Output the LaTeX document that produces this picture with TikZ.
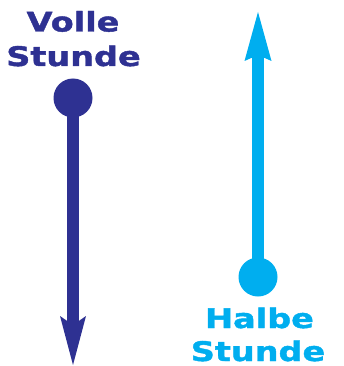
\documentclass[tikz,border=0pt]{standalone}
\usepackage{fontspec}
\newfontfamily\widefont{DejaVu Sans}[FakeStretch=1.24, FakeBold=1.5]
\definecolor{volleblue}{HTML}{2E3192}
\definecolor{halbeblue}{HTML}{00AEEF}
\tikzset{
  lbl/.style={anchor=base, inner sep=0pt, font=\widefont\bfseries\fontsize{27}{34}\selectfont},
  knob/.style={circle, inner sep=0pt, minimum size=39pt},
  shaft/.style={line width=12pt}
}
\begin{document}
\begin{tikzpicture}[x=1pt, y=-1pt]
\useasboundingbox (0,0) rectangle (344,366);
% Volle Stunde
\node[lbl, text=volleblue] (v1) at (73,31.5) {Volle};
\node[lbl, text=volleblue] (v2) at (73.5,66) {Stunde};
\node[knob, fill=volleblue] (cL) at (73,98) {};
\coordinate (tipL) at (73,365);
\coordinate (neckL) at (73,325);
\coordinate (barbL1) at (60,316);
\coordinate (barbL2) at (86,316);
\draw[shaft, volleblue] (cL.center) -- (neckL);
\fill[volleblue] (tipL) -- (barbL1) -- (neckL) -- (barbL2) -- cycle;
% Halbe Stunde
\node[lbl, text=halbeblue] (h1) at (259.5,328) {Halbe};
\node[lbl, text=halbeblue] (h2) at (258,361) {Stunde};
\node[knob, fill=halbeblue] (cR) at (258,277) {};
\coordinate (tipR) at (258,12);
\coordinate (neckR) at (258,55);
\coordinate (barbR1) at (244.5,61);
\coordinate (barbR2) at (271.5,61);
\draw[shaft, halbeblue] (cR.center) -- (neckR);
\fill[halbeblue] (tipR) -- (barbR1) -- (neckR) -- (barbR2) -- cycle;
\end{tikzpicture}
\end{document}
